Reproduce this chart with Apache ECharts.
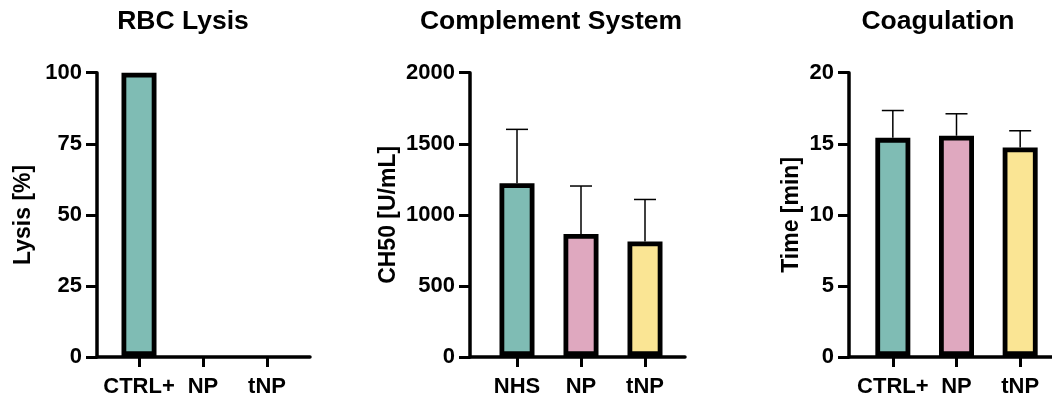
<!DOCTYPE html>
<html>
<head>
<meta charset="utf-8">
<script src="https://cdn.jsdelivr.net/npm/echarts@6/dist/echarts.min.js"></script>
<style>
html,body{margin:0;padding:0;background:#fff;}
#chart{width:1052px;height:398px;}
</style>
</head>
<body>
<div id="chart"></div>
<script>
// ---- data ----
const lysisCats = ['CTRL+', 'NP', 'tNP'];
const lysisVals = [100, 0, 0];
const lysisTicks = { max: 100, interval: 25 };

const complCats = ['NHS', 'NP', 'tNP'];
const complVals = [1220, 862, 808];
const complSD = [380, 338, 297];
const complTicks = { max: 2000, interval: 500 };

const coagCats = ['CTRL+', 'NP', 'tNP'];
const coagVals = [15.4, 15.55, 14.72];
const coagSD = [1.93, 1.55, 1.18];
const coagTicks = { max: 20, interval: 5 };

const titles = ['RBC Lysis', 'Complement System', 'Coagulation'];
const yNames = ['Lysis [%]', 'CH50 [U/mL]', 'Time [min]'];
const barColors = ['#7fbcb4', '#dfa8bf', '#fae594'];

// ---- layout ----
const FONT = '"Liberation Sans", Arial, sans-serif';
const TOP = 72.7, ZERO_Y = 357;
const panels = [
  { frameL: 97, frameR: 310, dataL: 107, titleX: 183, nameGap: 62 },
  { frameL: 470, frameR: 685, dataL: 485, titleX: 551, nameGap: 70 },
  { frameL: 849, frameR: 1052, dataL: 861, titleX: 938, nameGap: 46 }
];
const dataW = 192;
const panelData = [
  { cats: lysisCats, vals: lysisVals, sd: null, ticks: lysisTicks },
  { cats: complCats, vals: complVals, sd: complSD, ticks: complTicks },
  { cats: coagCats, vals: coagVals, sd: coagSD, ticks: coagTicks }
];

const grid = [], xAxis = [], yAxis = [], series = [], title = [];
panels.forEach((p, k) => {
  const d = panelData[k];
  const H = ZERO_Y - TOP;
  grid.push({ left: p.frameL, top: TOP, width: p.frameR - p.frameL, height: H });
  grid.push({ left: p.dataL, top: TOP, width: dataW, height: H });
  const fg = 2 * k, dg = 2 * k + 1;
  xAxis.push({
    gridIndex: fg, type: 'value', min: 0, max: 1,
    axisLine: { show: true, lineStyle: { color: '#000', width: 3.5 } },
    axisTick: { show: false }, axisLabel: { show: false }, splitLine: { show: false }
  });
  yAxis.push({
    gridIndex: fg, type: 'value', min: 0, max: d.ticks.max, interval: d.ticks.interval,
    axisLine: { show: true, lineStyle: { color: '#000', width: 3.5 } },
    axisTick: { show: true, length: 11, lineStyle: { color: '#000', width: 3 } },
    axisLabel: { margin: 15, color: '#000', fontFamily: FONT, fontWeight: 'bold', fontSize: 22,
      formatter: v => String(v) },
    splitLine: { show: false },
    name: yNames[k], nameLocation: 'middle', nameRotate: 90, nameGap: p.nameGap,
    nameTextStyle: { color: '#000', fontFamily: FONT, fontWeight: 'bold', fontSize: 23 }
  });
  xAxis.push({
    gridIndex: dg, type: 'category', data: d.cats,
    axisLine: { show: false },
    axisTick: { show: true, alignWithLabel: true, length: 11, lineStyle: { color: '#000', width: 3 } },
    axisLabel: { interval: 0, hideOverlap: false, margin: 20, color: '#000', fontFamily: FONT, fontWeight: 'bold', fontSize: 22 },
    splitLine: { show: false }
  });
  yAxis.push({
    gridIndex: dg, type: 'value', min: 0, max: d.ticks.max, show: false, splitLine: { show: false }
  });
  series.push({
    type: 'bar', xAxisIndex: dg, yAxisIndex: dg, barWidth: 35, z: 3,
    data: d.vals.map((v, i) => ({ value: v, itemStyle: { color: barColors[i], borderColor: '#000', borderWidth: v === 0 ? 0 : 4.8 } }))
  });
  if (d.sd) {
    series.push({
      type: 'custom', xAxisIndex: dg, yAxisIndex: dg, z: 2,
      data: d.vals.map((v, i) => [i, v, v + d.sd[i]]),
      renderItem: function (params, api) {
        const p0 = api.coord([api.value(0), api.value(1)]);
        const p1 = api.coord([api.value(0), api.value(2)]);
        const half = 11;
        return {
          type: 'group',
          children: [
            { type: 'line', shape: { x1: p0[0], y1: p0[1], x2: p1[0], y2: p1[1] }, style: { stroke: '#000', lineWidth: 1.5 } },
            { type: 'line', shape: { x1: p1[0] - half, y1: p1[1], x2: p1[0] + half, y2: p1[1] }, style: { stroke: '#000', lineWidth: 1.5 } }
          ]
        };
      }
    });
  }
  title.push({
    text: titles[k], left: p.titleX, top: 8, textAlign: 'center', padding: 0,
    textStyle: { color: '#000', fontFamily: FONT, fontWeight: 'bold', fontSize: 26.5 }
  });
});

const chart = echarts.init(document.getElementById('chart'), null, { renderer: 'canvas' });
chart.setOption({
  animation: false,
  backgroundColor: '#fff',
  title, grid, xAxis, yAxis, series
});
</script>
</body>
</html>
